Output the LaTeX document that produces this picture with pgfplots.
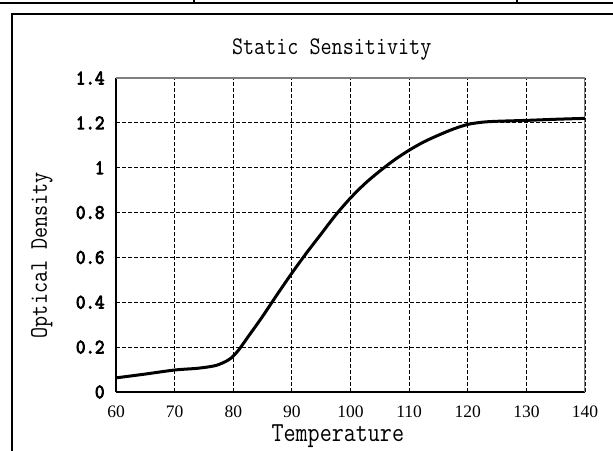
\documentclass[border=0pt]{standalone}
\usepackage{fontspec}
\setmainfont{Liberation Serif}
\newfontfamily\simmono[FakeStretch=0.85]{Latin Modern Mono}
\newfontfamily\simmonob[FakeStretch=0.9, FakeBold=4]{Latin Modern Mono}
\usepackage{pgfplots}
\pgfplotsset{compat=1.18}
\begin{document}
\begin{tikzpicture}[x=1pt,y=1pt]
\useasboundingbox (0,0) rectangle (613,450);
\draw[line width=2.2pt] (0,447) -- (613,447);
\draw[line width=1.5pt] (194,447) -- (194,451);
\draw[line width=1.5pt] (517,447) -- (517,451);
\draw[line width=2pt] (12,-5) -- (12,436) -- (620,436);
\begin{axis}[
  at={(116pt,58pt)}, anchor=south west,
  width=469pt, height=314pt, scale only axis,
  xmin=60, xmax=140, ymin=0, ymax=1.4,
  xtick={60,70,...,140},
  ytick={0,0.2,...,1.4},
  axis lines=left,
  axis line style={-, line width=2pt, black},
  major tick length=0pt,
  grid=major,
  major grid style={black, line width=1pt, dash pattern=on 4pt off 2pt},
  /pgf/number format/assume math mode=true,
  xticklabel style={font=\fontsize{17.5}{18}\selectfont, yshift=-10pt},
  yticklabel style={font=\simmonob\fontsize{20.5}{21}\selectfont, xshift=-8pt},
  title={\simmono Static Sensitivity},
  title style={font=\fontsize{25.3}{26}\selectfont, at={(axis description cs:0.46,1.073)}, anchor=center},
  xlabel={\simmono Temperature},
  xlabel style={font=\fontsize{27.5}{28}\selectfont, at={(axis description cs:0.473,-0.14)}, anchor=center},
  ylabel={\simmono Optical Density},
  ylabel style={font=\fontsize{25.3}{26}\selectfont, at={(axis description cs:-0.158,0.436)}, anchor=center},
]
\draw[gray, line width=1.5pt] (rel axis cs:0,1) -- (rel axis cs:1,1) -- (rel axis cs:1,0);
\addplot[black, line width=3pt, smooth, tension=0.5] coordinates {
(60,0.063) (65,0.08) (70,0.098) (74,0.106) (77,0.118) (79,0.14) (80,0.16)
(81,0.19) (82.5,0.245) (85,0.337) (87.5,0.435) (90,0.53) (92.5,0.62) (95,0.705)
(97.5,0.79) (100,0.865) (102.5,0.93) (105,0.985) (107.5,1.035) (110,1.078)
(112.5,1.115) (115,1.145) (117.5,1.172) (120,1.193) (122.5,1.203) (125,1.207)
(130,1.211) (135,1.216) (140,1.22)
};
\end{axis}
\end{tikzpicture}
\end{document}
